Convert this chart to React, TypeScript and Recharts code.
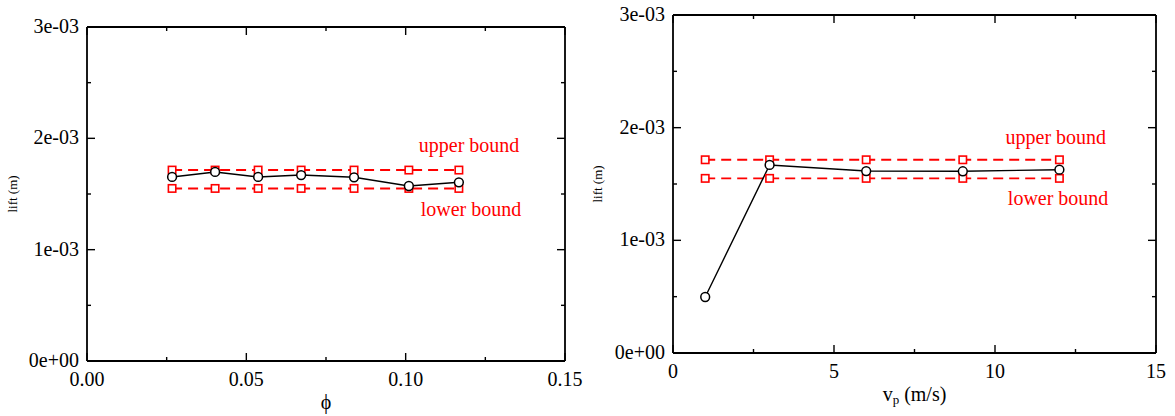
import React from "react";
import { LineChart, Line, XAxis, YAxis, ReferenceDot } from "recharts";

// left panel: lift vs phi
const phiValues = [0.0267, 0.0402, 0.0537, 0.0672, 0.0838, 0.101, 0.1167];
const phiLift = [1.653e-3, 1.698e-3, 1.653e-3, 1.67e-3, 1.65e-3, 1.572e-3, 1.605e-3];
const phiUpper = [1.715e-3, 1.715e-3, 1.715e-3, 1.715e-3, 1.715e-3, 1.715e-3, 1.715e-3];
const phiLower = [1.55e-3, 1.55e-3, 1.55e-3, 1.55e-3, 1.55e-3, 1.55e-3, 1.55e-3];

// right panel: lift vs particle velocity
const vpValues = [1, 3, 6, 9, 12];
const vpLift = [0.497e-3, 1.669e-3, 1.615e-3, 1.613e-3, 1.627e-3];
const vpUpper = [1.715e-3, 1.715e-3, 1.715e-3, 1.715e-3, 1.715e-3];
const vpLower = [1.55e-3, 1.55e-3, 1.55e-3, 1.55e-3, 1.55e-3];

// axis ticks
const phiMajor = [0, 0.05, 0.1, 0.15];
const phiMinor = [0.025, 0.075, 0.125];
const vpMajor = [0, 5, 10, 15];
const vpMinor = [2.5, 7.5, 12.5];
const liftMajor = [0, 1e-3, 2e-3, 3e-3];
const liftMinor = [0.5e-3, 1.5e-3, 2.5e-3];
const liftLabels = ["0e+00", "1e-03", "2e-03", "3e-03"];

const FONT = '"Liberation Serif", "Times New Roman", serif';
const RED = "#ff0000";
const MAJOR_LEN = 8;
const MINOR_LEN = 4;
const H = 416;

const isMajor = (v: number, majors: number[]) =>
  majors.some((m) => Math.abs(m - v) < 1e-9);

const makeRows = (xs: number[], lift: number[], up: number[], lo: number[]) =>
  xs.map((x, i) => ({ x, lift: lift[i], upper: up[i], lower: lo[i] }));

const SquareDot = (props: any) => {
  const { cx, cy, index } = props;
  if (cx == null || cy == null) return <g key={index} />;
  return (
    <rect key={index} x={cx - 3.7} y={cy - 3.7} width={7.4} height={7.4}
      fill="#fff" stroke={RED} strokeWidth={1.6} />
  );
};

const CircleDot = (props: any) => {
  const { cx, cy, index } = props;
  if (cx == null || cy == null) return <g key={index} />;
  return <circle key={index} cx={cx} cy={cy} r={4.4} fill="#fff" stroke="#000" strokeWidth={1.5} />;
};

// ticks point inwards; labels only on major ticks
const tickFor = (side: string, majors: number[], fmt?: (v: number) => string) => (props: any) => {
  const { x, y, payload } = props;
  const major = isMajor(payload.value, majors);
  const len = major ? MAJOR_LEN : MINOR_LEN;
  let line;
  if (side === "bottom") line = { x1: x, y1: y, x2: x, y2: y - len };
  else if (side === "top") line = { x1: x, y1: y, x2: x, y2: y + len };
  else if (side === "left") line = { x1: x, y1: y, x2: x + len, y2: y };
  else line = { x1: x, y1: y, x2: x - len, y2: y };
  const textStyle = { fontFamily: FONT };
  return (
    <g>
      <line {...line} stroke="#000" strokeWidth={1.4} />
      {major && fmt && side === "bottom" && (
        <text x={x} y={y + 18} textAnchor="middle" dominantBaseline="central"
          style={textStyle} fontSize={20} fill="#000">{fmt(payload.value)}</text>
      )}
      {major && fmt && side === "left" && (
        <text x={x - 8} y={y - 1} textAnchor="end" dominantBaseline="central"
          style={textStyle} fontSize={20} fill="#000">{fmt(payload.value)}</text>
      )}
    </g>
  );
};

const liftFmt = (v: number) => liftLabels[liftMajor.findIndex((m) => Math.abs(m - v) < 1e-9)];

const yTitle = (dx: number) => (props: any) => {
  const vb = props.viewBox;
  const x = vb.x + dx;
  const y = vb.y + vb.height / 2;
  return (
    <text x={x} y={y} transform={`rotate(-90, ${x}, ${y})`} textAnchor="middle"
      dominantBaseline="central" style={{ fontFamily: FONT }} fontSize={13} fill="#000">lift (m)</text>
  );
};

const xTitle = (content: React.ReactNode) => (props: any) => {
  const vb = props.viewBox;
  return (
    <text x={vb.x + vb.width / 2} y={vb.y + 41} textAnchor="middle" dominantBaseline="central"
      style={{ fontFamily: FONT }} fontSize={20} fill="#000">{content}</text>
  );
};

const frame = { stroke: "#000", strokeWidth: 1.8 };

interface PanelProps {
  rows: any[];
  width: number;
  plot: { left: number; top: number; right: number; bottom: number };
  xMax: number;
  xMajor: number[];
  xMinor: number[];
  xFmt: (v: number) => string;
  xLabel: React.ReactNode;
  yTitleDx: number;
  notes: { upper: [number, number]; lower: [number, number] };
}

const Panel = ({ rows, width, plot, xMax, xMajor, xMinor, xFmt, xLabel, yTitleDx, notes }: PanelProps) => {
  const xTicks = [...xMajor, ...xMinor].sort((a, b) => a - b);
  const yTicks = [...liftMajor, ...liftMinor].sort((a, b) => a - b);
  const noteLabel = (value: string) => ({
    value, position: "center" as const, fill: RED, fontSize: 20, fontFamily: FONT,
  });
  return (
    <LineChart width={width} height={H} data={rows} margin={{ top: 0, right: 0, left: 0, bottom: 0 }}>
      <XAxis dataKey="x" type="number" domain={[0, xMax]} ticks={xTicks} interval={0}
        allowDataOverflow tickLine={false} tickSize={0} tickMargin={0}
        height={H - plot.bottom} axisLine={frame}
        tick={tickFor("bottom", xMajor, xFmt)} label={xTitle(xLabel)} />
      <XAxis xAxisId="top" orientation="top" dataKey="x" type="number" domain={[0, xMax]}
        ticks={xTicks} interval={0} allowDataOverflow tickLine={false} tickSize={0}
        tickMargin={0} height={plot.top} axisLine={frame} tick={tickFor("top", xMajor)} />
      <YAxis type="number" domain={[0, 3e-3]} ticks={yTicks} interval={0} allowDataOverflow
        tickLine={false} tickSize={0} tickMargin={0} width={plot.left} axisLine={frame}
        tick={tickFor("left", liftMajor, liftFmt)} label={yTitle(yTitleDx)} />
      <YAxis yAxisId="right" orientation="right" type="number" domain={[0, 3e-3]} ticks={yTicks}
        interval={0} allowDataOverflow tickLine={false} tickSize={0} tickMargin={0}
        width={width - plot.right} axisLine={frame} tick={tickFor("right", liftMajor)} />

      <Line dataKey="upper" stroke={RED} strokeWidth={1.9} strokeDasharray="10 6"
        dot={SquareDot} activeDot={false} isAnimationActive={false} />
      <Line dataKey="lower" stroke={RED} strokeWidth={1.9} strokeDasharray="10 6"
        dot={SquareDot} activeDot={false} isAnimationActive={false} />
      <Line dataKey="lift" stroke="#000" strokeWidth={1.4} dot={CircleDot}
        activeDot={false} isAnimationActive={false} />

      <ReferenceDot x={notes.upper[0]} y={notes.upper[1]} r={0} fill="none" stroke="none"
        label={noteLabel("upper bound")} />
      <ReferenceDot x={notes.lower[0]} y={notes.lower[1]} r={0} fill="none" stroke="none"
        label={noteLabel("lower bound")} />
    </LineChart>
  );
};

export default function App() {
  const phiRows = makeRows(phiValues, phiLift, phiUpper, phiLower);
  const vpRows = makeRows(vpValues, vpLift, vpUpper, vpLower);
  return (
    <div style={{ position: "absolute", left: 0, top: 0, width: 1175, height: H, background: "#fff", display: "flex" }}>
      <Panel
        rows={phiRows}
        width={590}
        plot={{ left: 87, top: 27, right: 565, bottom: 361 }}
        xMax={0.15}
        xMajor={phiMajor}
        xMinor={phiMinor}
        xFmt={(v) => v.toFixed(2)}
        xLabel="ϕ"
        yTitleDx={12}
        notes={{ upper: [0.1199, 1.94e-3], lower: [0.1205, 1.365e-3] }}
      />
      <Panel
        rows={vpRows}
        width={585}
        plot={{ left: 83, top: 15, right: 566, bottom: 353 }}
        xMax={15}
        xMajor={vpMajor}
        xMinor={vpMinor}
        xFmt={(v) => String(v)}
        xLabel={
          <>
            <tspan>v</tspan>
            <tspan dy={5} fontSize={13}>p</tspan>
            <tspan dy={-5}> (m/s)</tspan>
          </>
        }
        yTitleDx={7}
        notes={{ upper: [11.89, 1.917e-3], lower: [11.96, 1.376e-3] }}
      />
    </div>
  );
}
